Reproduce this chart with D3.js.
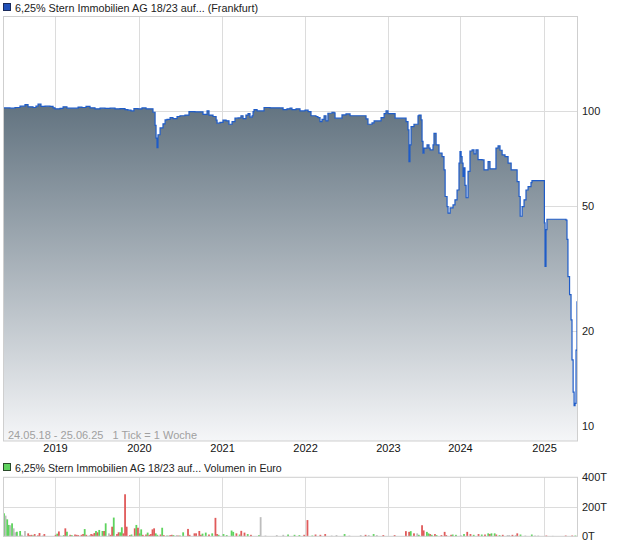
<!DOCTYPE html>
<html><head><meta charset="utf-8">
<script src="https://cdn.jsdelivr.net/npm/d3@7"></script>
<style>body{margin:0;background:#fff}svg{display:block;font-family:"Liberation Sans",Arial,sans-serif}</style>
</head><body><svg id="c" width="620" height="546"></svg>
<script>
const title = "6,25% Stern Immobilien AG 18/23 auf... (Frankfurt)";
const volTitle = "6,25% Stern Immobilien AG 18/23 auf... Volumen in Euro";
const rangeNote = "24.05.18 - 25.06.25   1 Tick = 1 Woche";
const yearLabels = ["2019","2020","2021","2022","2023","2024","2025"];
const yearWeeks = [31.6, 83.6, 135.1, 186.5, 237.9, 282.5, 334.6];
const priceTicks = [10, 20, 50, 100];
const volTicks = [0, 200, 400];
const volTickLabels = ["0T", "200T", "400T"];

const priceWeek = [0,3.7,6.8,9.9,13.0,14.9,18.0,19.8,21.1,22.9,25.4,28.5,30.4,31.6,34.7,36.6,39.0,44.0,45.9,48.3,50.8,53.3,56.4,59.5,62.6,65.7,68.8,71.9,75.0,76.8,78.7,80.5,83.0,85.5,88.0,90.5,92.3,93.6,94.2,94.8,95.4,96.7,98.5,99.8,101.0,102.9,104.7,107.2,109.0,112.1,114.6,118.3,121.4,123.3,124.5,125.8,127.0,129.5,131.4,132.0,133.8,135.7,137.6,139.4,141.3,143.1,145.0,146.8,148.1,149.9,151.2,152.4,153.7,154.3,154.9,156.8,159.9,161.1,164.8,171.0,172.9,175.3,177.2,178.4,180.9,183.4,186.5,188.4,190.2,193.3,194.5,195.8,197.0,198.3,199.5,200.7,203.2,204.5,205.1,208.2,209.4,211.9,214.4,221.8,224.3,225.5,228.0,229.3,233.0,233.6,235.5,236.7,237.9,241.0,242.3,248.5,249.1,250.3,250.9,251.5,252.2,254.0,256.5,257.1,258.4,259.0,259.6,260.2,262.1,263.3,264.0,265.8,266.4,267.7,269.5,271.4,272.6,273.3,274.5,275.1,276.4,278.2,279.4,280.7,281.9,282.5,283.2,283.8,284.4,285.0,285.6,286.3,287.5,288.7,290.0,291.2,292.4,293.7,296.2,297.4,299.9,301.1,303.6,304.8,306.1,307.3,308.6,310.4,312.3,314.2,317.3,317.9,319.1,319.8,321.0,322.2,323.4,324.7,326.5,327.1,334.8,335.2,335.8,336.4,348.2,348.8,349.4,350.4,351.3,351.9,352.6,353.2,353.8,354.4,355.0];
const priceValue = [102.2,102,102.5,103.5,104.7,103,102.5,103.5,105,103.3,103.5,103.3,102.3,101.5,101.8,103,102,102,102.8,102.5,103.3,102.3,101.5,102,101.8,102,101.5,101.7,101,100.5,100,101.7,101.5,102.2,101.5,101.5,99,90,82,76.5,84,88.3,91,93.6,94,95.2,94.5,96,96.5,97,99.5,99.3,99.3,97.5,97.5,100,97,96,93.5,91.4,92,93.5,93,90.7,92.5,94.8,95,96.5,94.5,97,98,95.5,96.5,99.5,101,100,100,102.5,102.3,102.2,101,101.5,102,101,101.5,100,100.5,99.5,96.5,96,95.2,92.5,94,96.5,92.9,98.3,99,98.5,94.8,94.8,97.1,97.8,96.5,96.5,94.3,90.7,91.6,92.9,92.9,95.2,98,100,98,98,94.8,94.8,92.5,87,69,78,89.2,90.7,96.5,97,93.6,80,73.4,76.2,78,76.2,75.2,78,84.9,78,73.4,71.6,65,53.5,49.7,47.4,49.2,50.3,52.2,56.1,68.3,74.3,71.6,68.3,62,66,58,53,64.3,74.6,75.2,73,75.2,70,69.9,65,69,65.5,65.5,76.2,77.4,75,72.5,71.6,68.3,65,65,59.6,53.5,46.3,49.7,52.2,56.1,57.5,59.2,60.1,44.1,32.1,42,45.3,45,39.1,29.8,26.1,21.7,16.2,12.8,11.6,11.8,17.4,24.9];

const volWeek = [0,1,2,3,4,5,6,7,8,10,11,13,15,16,17,18,19,21,22,24,25,32,33,34,35,37,38,39,41,42,44,45,46,48,49,50,51,53,54,55,56,57,58,59,61,62,63,65,66,67,68,70,71,72,73,74,75,76,78,79,81,82,83,84,85,86,88,89,90,91,92,93,94,95,97,98,99,101,102,103,104,105,107,108,109,111,114,115,118,119,121,122,123,125,127,129,131,132,133,136,138,141,142,144,146,147,149,151,153,158,159,162,169,173,176,180,183,186,188,191,193,196,199,203,206,211,214,221,224,226,229,231,235,242,249,251,252,254,256,257,259,260,262,263,264,265,267,268,271,273,274,277,278,280,283,285,287,289,291,294,296,298,300,301,302,304,305,307,309,312,313,315,317,318,320,323,327,329,331,336,340,348,352,354];
const volValue = [156,140,115,77,75,88,54,27,31,36,10,36,20,8,10,6,15,6,22,5,15,10,18,33,5,8,54,31,10,8,12,10,8,10,15,49,10,8,15,12,22,36,27,43,36,36,88,20,10,65,127,15,27,27,61,20,285,65,8,12,54,77,58,20,47,10,12,25,10,15,47,54,20,10,12,58,8,5,5,8,10,8,8,5,5,27,50,10,20,20,36,10,18,25,12,20,125,15,10,15,8,39,30,20,12,37,25,15,10,8,130,5,8,10,12,10,8,10,110,5,12,10,15,5,8,15,5,8,10,8,15,8,8,8,35,30,35,20,20,10,75,40,30,20,15,10,15,8,8,30,8,10,12,10,8,15,30,15,10,15,12,12,20,15,20,20,12,8,10,8,8,10,8,20,12,5,12,5,5,5,3,5,5,5];
const volTone = ["g","n","g","g","n","g","n","n","g","g","n","n","r","r","r","g","r","r","r","n","r","r","g","r","n","g","r","g","r","g","r","r","r","r","r","g","r","n","r","r","r","g","r","g","g","r","g","n","r","r","g","r","r","g","g","r","r","r","r","g","r","g","r","g","g","r","r","g","r","r","r","r","g","g","r","g","r","g","n","r","r","g","n","r","g","g","r","r","r","r","r","r","g","g","r","g","r","r","g","g","g","g","g","r","g","r","r","g","r","g","n","n","n","n","g","g","g","r","r","g","r","r","r","n","n","g","n","n","r","n","g","n","r","r","r","r","g","r","n","g","r","r","g","g","r","g","r","g","r","r","r","r","g","g","n","g","r","r","g","r","g","r","g","r","g","g","r","g","r","n","n","r","n","r","g","n","g","n","n","r","n","r","r","g"];

const svg = d3.select("#c");
const L = 3, R = 578, T1 = 17, B1 = 441, T2 = 477.3, B2 = 536.3;
const x = d3.scaleLinear().domain([0, 355]).range([4, 577]);
const y = d3.scaleLog().domain([8.96, 198.6]).range([B1, T1]);
const yv = d3.scaleLinear().domain([0, 400]).range([B2, T2]);
const gridC = "#dcdcdc", borderC = "#cfcfcf";
const FF = "Liberation Sans, Arial, sans-serif";

const defs = svg.append("defs");
const grad = defs.append("linearGradient").attr("id","fillg").attr("gradientUnits","userSpaceOnUse")
  .attr("x1",0).attr("x2",0).attr("y1",y(105)).attr("y2",B1);
grad.append("stop").attr("offset",0).attr("stop-color","#627380");
grad.append("stop").attr("offset",1).attr("stop-color","#f5f6f8");

svg.append("rect").attr("x",3.5).attr("y",3.5).attr("width",7).attr("height",7).attr("fill","#2050b8").attr("stroke","#1a2a5a").attr("stroke-width",1);
svg.append("text").attr("x",15).attr("y",11.5).attr("font-size",10.8).attr("fill","#222").text(title);

const g1 = svg.append("g");
g1.selectAll("line.h").data(priceTicks).join("line").attr("class","h")
  .attr("x1",L).attr("x2",R).attr("y1",d=>Math.round(y(d))+0.5).attr("y2",d=>Math.round(y(d))+0.5)
  .attr("stroke",gridC);
g1.selectAll("line.v").data(yearWeeks).join("line").attr("class","v")
  .attr("x1",d=>Math.round(x(d))+0.5).attr("x2",d=>Math.round(x(d))+0.5).attr("y1",T1).attr("y2",B1)
  .attr("stroke",gridC);

const pts = priceWeek.map((w,i)=>[w, priceValue[i]]);
const area = d3.area().x(d=>x(d[0])).y0(B1).y1(d=>y(d[1])).curve(d3.curveStepAfter);
const line = d3.line().x(d=>x(d[0])).y(d=>y(d[1])).curve(d3.curveStepAfter);
svg.append("path").datum(pts).attr("d",area).attr("fill","url(#fillg)");
svg.append("path").datum(pts).attr("d",line).attr("fill","none").attr("stroke","#1f5cc8").attr("stroke-width",1.2);

svg.append("rect").attr("x",L+0.5).attr("y",T1-0.5).attr("width",R-L-1).attr("height",B1-T1+0.5)
  .attr("fill","none").attr("stroke",borderC);

svg.append("text").attr("x",8).attr("y",439).attr("font-size",11).attr("fill","#a0a0a0")
  .attr("xml:space","preserve").style("white-space","pre").text(rangeNote);

const ya = svg.append("g").attr("transform",`translate(${R},0)`)
  .call(d3.axisRight(y).tickValues(priceTicks).tickFormat(d3.format("d")).tickSize(0).tickPadding(4));
ya.select(".domain").remove();
ya.selectAll("text").attr("font-size",11).attr("fill","#222").attr("font-family",FF);

const xa = svg.append("g").attr("transform",`translate(0,${B1})`)
  .call(d3.axisBottom(x).tickValues(yearWeeks).tickFormat((d,i)=>yearLabels[i]).tickSize(0).tickPadding(3));
xa.select(".domain").remove();
xa.selectAll("text").attr("font-size",11).attr("fill","#111").attr("font-family",FF);

svg.append("rect").attr("x",3.5).attr("y",463.5).attr("width",7).attr("height",7).attr("fill","#5fd35f").attr("stroke","#2a4a2a");
svg.append("text").attr("x",15).attr("y",471.5).attr("font-size",10.6).attr("fill","#222").text(volTitle);

const g2 = svg.append("g");
g2.selectAll("line.h").data([200]).join("line").attr("class","h")
  .attr("x1",L).attr("x2",R).attr("y1",d=>Math.round(yv(d))+0.5).attr("y2",d=>Math.round(yv(d))+0.5).attr("stroke",gridC);
g2.selectAll("line.v").data(yearWeeks).join("line").attr("class","v")
  .attr("x1",d=>Math.round(x(d))+0.5).attr("x2",d=>Math.round(x(d))+0.5).attr("y1",T2).attr("y2",B2).attr("stroke",gridC);

const toneColor = {g:"#5ed35e", r:"#e05a5a", n:"#bdbdbd"};
svg.append("g").selectAll("rect").data(volWeek).join("rect")
  .attr("x",(d)=>x(d)-0.9).attr("width",1.8)
  .attr("y",(d,i)=>yv(volValue[i])).attr("height",(d,i)=>B2-yv(volValue[i]))
  .attr("fill",(d,i)=>toneColor[volTone[i]]);

svg.append("rect").attr("x",L+0.5).attr("y",T2).attr("width",R-L-1).attr("height",B2-T2)
  .attr("fill","none").attr("stroke",borderC);

const va = svg.append("g").attr("transform",`translate(${R},0)`)
  .call(d3.axisRight(yv).tickValues(volTicks).tickFormat((d,i)=>volTickLabels[i]).tickSize(0).tickPadding(4));
va.select(".domain").remove();
va.selectAll("text").attr("font-size",11).attr("fill","#222").attr("font-family",FF);
</script></body></html>
